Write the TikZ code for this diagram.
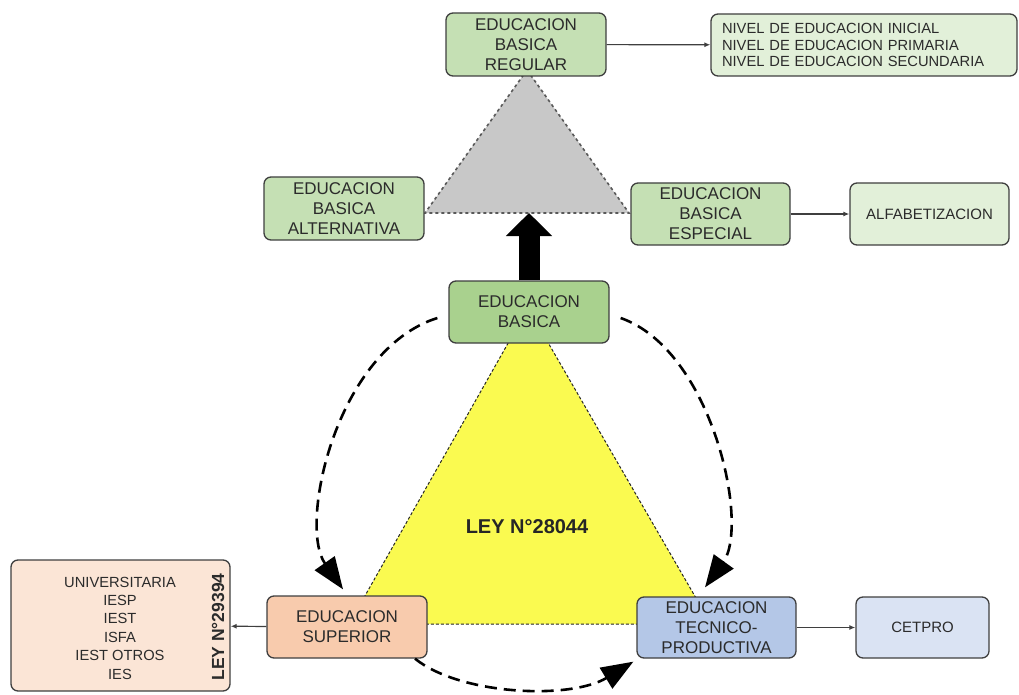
\documentclass[tikz,border=0pt]{standalone}
\usepackage{fontspec}
\setmainfont{Liberation Sans}
\usetikzlibrary{arrows.meta}
\definecolor{bordc}{HTML}{3F3F3F}
\definecolor{txtc}{HTML}{2B2B2B}
\definecolor{greenA}{HTML}{C5E0B4}
\definecolor{greenB}{HTML}{A9D18E}
\definecolor{greenL}{HTML}{E2F0D9}
\definecolor{peachA}{HTML}{F8CBAD}
\definecolor{peachL}{HTML}{FBE5D6}
\definecolor{blueA}{HTML}{B4C7E7}
\definecolor{blueL}{HTML}{DAE3F3}
\definecolor{yellowT}{HTML}{FAFA50}
\definecolor{greyT}{HTML}{C8C8C8}
\tikzset{
  box/.style={draw=bordc, line width=1.3pt, rounded corners=7pt, align=center,
    inner sep=0pt, text=txtc, font=\fontsize{17}{20}\selectfont},
  smallbox/.style={box, font=\fontsize{15}{18}\selectfont},
  link/.style={line width=1.2pt, draw=bordc, -{Latex[length=6pt,width=5pt]}},
  dasharc/.style={line width=2.6pt, dash pattern=on 12pt off 7pt,
    -{Triangle[width=24pt,length=32pt]}},
}
\begin{document}
\begin{tikzpicture}[x=1pt,y=-1pt]
\useasboundingbox (0,0) rectangle (1019,695);

% triangles
\coordinate (ga) at (527,70);
\coordinate (gl) at (425,213);
\coordinate (gr) at (629,213);
\filldraw[fill=greyT, draw=black!65, line width=1.6pt, dash pattern=on 3pt off 3pt]
  (ga) -- (gl) -- (gr) -- cycle;
\coordinate (ya) at (528,308);
\coordinate (yl) at (349,624);
\coordinate (yr) at (711,624);
\filldraw[fill=yellowT, draw=black!85, line width=1pt, dash pattern=on 3pt off 2pt]
  (ya) -- (yl) -- (yr) -- cycle;

% boxes
\node[box, fill=greenA, minimum width=160pt, minimum height=63pt] (ebr) at (526,44.5)
  {EDUCACION\\BASICA\\REGULAR};
\node[box, fill=greenL, text width=284pt, inner xsep=11pt, minimum height=62pt, align=left,
  font=\fontsize{14.7}{16.6}\selectfont] (nivel) at (864,45)
  {NIVEL DE EDUCACION INICIAL\\NIVEL DE EDUCACION PRIMARIA\\NIVEL DE EDUCACION SECUNDARIA};
\node[box, fill=greenA, minimum width=160pt, minimum height=63pt] (eba) at (344,208.5)
  {EDUCACION\\BASICA\\ALTERNATIVA};
\node[box, fill=greenA, minimum width=159pt, minimum height=62pt] (ebe) at (710.5,214)
  {EDUCACION\\BASICA\\ESPECIAL};
\node[smallbox, fill=greenL, minimum width=159pt, minimum height=62pt] (alfa) at (929.5,214)
  {ALFABETIZACION};
\node[box, fill=greenB, minimum width=160pt, minimum height=62pt] (eb) at (529,312)
  {EDUCACION\\BASICA};
\node[box, fill=peachA, minimum width=160pt, minimum height=62pt] (es) at (347,627)
  {EDUCACION\\SUPERIOR};
\node[box, fill=blueA, minimum width=159pt, minimum height=61pt] (etp) at (716.5,627.5)
  {EDUCACION\\TECNICO-\\PRODUCTIVA};
\node[smallbox, fill=blueL, minimum width=133pt, minimum height=61pt] (cetpro) at (922.5,627.5)
  {CETPRO};
\node[box, fill=peachL, minimum width=219pt, minimum height=131pt] (univ) at (120.5,625.5) {};
\node[text=txtc, align=center, inner sep=0pt, font=\fontsize{14.7}{18.4}\selectfont]
  (univtxt) at (120,628) {UNIVERSITARIA\\IESP\\IEST\\ISFA\\IEST OTROS\\IES};
\node[text=txtc, rotate=90, inner sep=0pt, font=\bfseries\fontsize{17.5}{20}\selectfont]
  (ley2) at (218,627) {LEY N°29394};
\node[text=black!85, inner sep=0pt, font=\bfseries\fontsize{20}{24}\selectfont]
  (ley1) at (527,527) {LEY N°28044};

% connectors
\draw[link] (ebr) -- (nivel);
\draw[link] (ebe) -- (alfa);
\draw[link] (es) -- (univ);
\draw[link] (etp) -- (cetpro);
\coordinate (gtb) at (eb.north |- gl);
\draw[line width=21pt, -{Triangle[width=45pt,length=23pt]}] (eb.north) -- (gtb);

\draw[dasharc] ([shift={(-11,6)}]eb.west) .. controls (336,350) and (298,525) .. ([shift={(-4,-6)}]es.north);
\draw[dasharc] ([shift={(11,6)}]eb.east) .. controls (712,350) and (750,525) .. ([shift={(-11.5,-9)}]etp.north);
\draw[dasharc] ([shift={(68,0)}]es.south) .. controls (460,695) and (570,700) .. ([shift={(-3,3)}]etp.south west);
\end{tikzpicture}
\end{document}
